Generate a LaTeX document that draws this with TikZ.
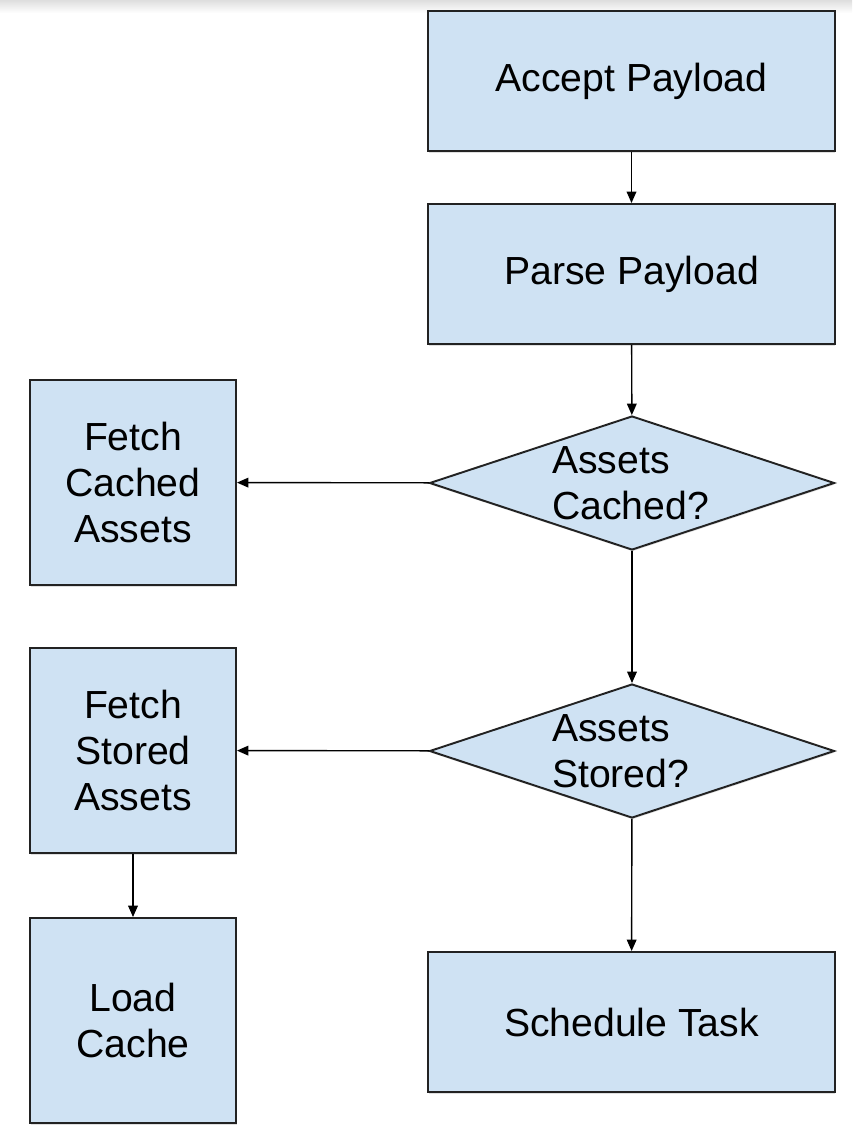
\documentclass[tikz,border=0pt]{standalone}
\usepackage{fontspec}
\setmainfont{Liberation Sans}
\usetikzlibrary{shapes.geometric, arrows.meta, shadows}

\definecolor{boxfill}{HTML}{CFE2F3}
\definecolor{boxline}{HTML}{222222}

\begin{document}
\begin{tikzpicture}[x=0.02cm, y=-0.02cm,
	every node/.style={draw=boxline, line width=1.1pt, fill=boxfill, align=center, inner sep=0pt,
		font=\fontsize{22.3}{26}\selectfont, drop shadow={shadow xshift=0.3pt, shadow yshift=-0.9pt, opacity=0.25}},
	wide/.style={rectangle, minimum width=8.14cm, minimum height=2.8cm},
	small/.style={rectangle, minimum width=4.12cm, minimum height=4.1cm},
	decision/.style={diamond, aspect=2.95, text width=3.2cm, align=left, minimum width=8.1cm, minimum height=2.68cm},
	arr/.style={draw=black, line width=0.8pt, -{Triangle[length=6.5pt, width=5.5pt]}}]
	\useasboundingbox (0,0) rectangle (852,1142);
	\shade[top color=black!13, bottom color=white] (0,0) rectangle (852,13);

	\node[wide] (accept) at (631.5,81) {Accept Payload};
	\node[wide] (parse) at (631.5,274) {Parse Payload};
	\node[decision] (cached) at (632,483) {Assets\\Cached?};
	\node[decision] (stored) at (632,751) {Assets\\Stored?};
	\node[wide] (schedule) at (631.5,1022) {Schedule Task};

	\node[small] (fetchcached) at (133,482.5) {Fetch\\Cached\\Assets};
	\node[small] (fetchstored) at (133,750.5) {Fetch\\Stored\\Assets};
	\node[small] (loadcache) at (133,1020.5) {Load\\Cache};

	\path (accept) edge[arr] (parse);
	\path (parse) edge[arr] (cached);
	\path (cached) edge[arr] (fetchcached);
	\path (cached) edge[arr] (stored);
	\path (stored) edge[arr] (fetchstored);
	\path (stored) edge[arr] (schedule);
	\path (fetchstored) edge[arr] (loadcache);
\end{tikzpicture}
\end{document}
